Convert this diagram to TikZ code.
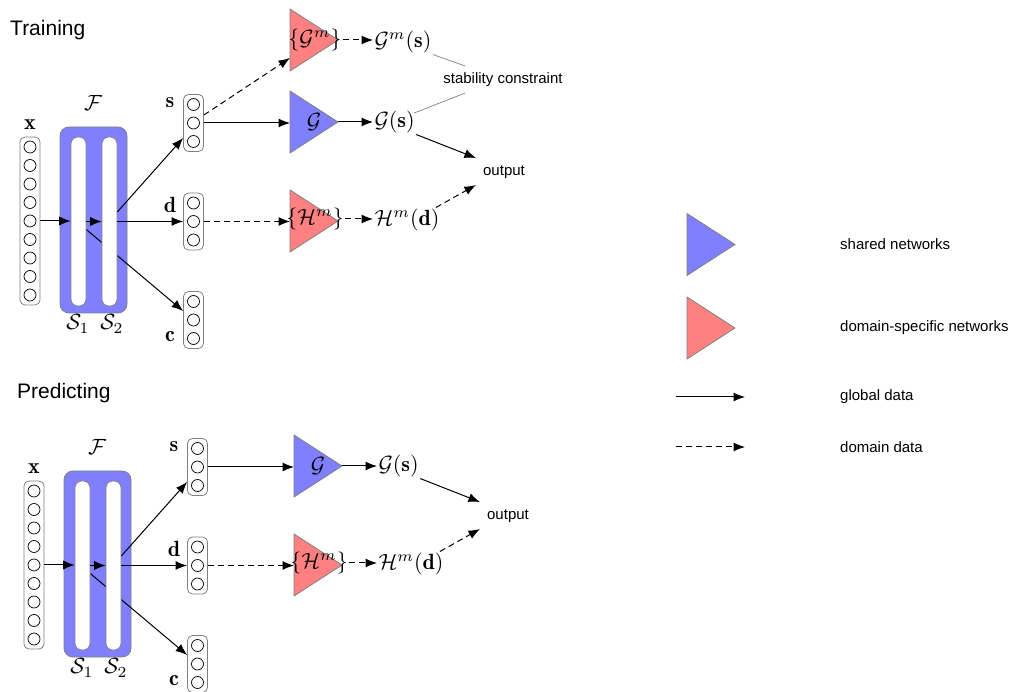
\documentclass[tikz,border=0pt]{standalone}
\usepackage{fontspec}
\setsansfont{Liberation Sans}
\usetikzlibrary{arrows.meta,calc}
\pgfdeclarelayer{back}
\pgfdeclarelayer{wire}
\pgfsetlayers{back,wire,main}

\definecolor{sharedblue}{RGB}{128,128,255}
\definecolor{domainred}{RGB}{255,128,128}
\definecolor{edgegray}{RGB}{128,128,128}

\tikzset{
  stack/.style={draw=edgegray, line width=0.8pt, rounded corners=5pt, minimum width=20, inner sep=0pt, fill=white},
  unit/.style={circle, draw=black, line width=0.7pt, minimum size=12, inner sep=0pt},
  encoder/.style={draw=edgegray, line width=0.8pt, fill=sharedblue, rounded corners=9pt, minimum width=67, minimum height=186, inner sep=0pt},
  slot/.style={draw=edgegray, line width=0.6pt, fill=white, rounded corners=7pt, minimum width=15, minimum height=169, inner sep=0pt},
  lbl/.style={inner sep=0.5pt, scale=2.2},
  txt/.style={inner sep=2pt, font=\sffamily\fontsize{15}{18}\selectfont},
  title/.style={inner sep=0pt, anchor=west, font=\sffamily\fontsize{21}{25}\selectfont},
  flow/.style={line width=1pt, -{Latex[length=11.5pt,width=9pt]}},
  domflow/.style={flow, dash pattern=on 6pt off 4pt},
  shared/.style={draw=edgegray, line width=0.8pt, fill=sharedblue},
  specific/.style={draw=edgegray, line width=0.8pt, fill=domainred},
  link/.style={draw=edgegray, line width=0.7pt},
}

% a column of neurons in a rounded frame: name, position, count
\newcommand\neuronstack[3]{%
  \node[stack, minimum height={(#3-1)*18.5+20}] (#1) at #2 {};
  \foreach \k in {1,...,#3}{
    \pgfmathsetmacro\dy{(\k-(#3+1)/2)*18.5}
    \node[unit] (#1-\k) at ($(#1.center)+(0,\dy)$) {};
  }
}

% a network drawn as a right-pointing triangle: style, name, base midpoint
\newcommand\netshape[3]{%
  \coordinate (#2) at #3;
  \coordinate (#2tip) at ($(#2)+(48,0)$);
  \draw[#1] ($(#2)+(0,-31)$) -- (#2tip) -- ($(#2)+(0,31)$) -- cycle;
}

% encoder, heads and output shared by both stages: prefix, x offset, y offset
\newcommand\panel[3]{%
  \neuronstack{#1x}{({30+#2},{221+#3})}{9}
  \node[lbl] (#1xl) at ({30+#2},{125+#3}) {$\mathbf{x}$};
  \begin{pgfonlayer}{back}
    \node[encoder] (#1F) at ({93.5+#2},{220+#3}) {};
  \end{pgfonlayer}
  \node[lbl] (#1Fl) at ({93+#2},{103+#3}) {$\mathcal{F}$};
  \node[slot] (#1S1) at ({78.5+#2},{221.5+#3}) {};
  \node[slot] (#1S2) at ({109.5+#2},{221.5+#3}) {};
  \node[lbl] (#1S1l) at ({78+#2},{324+#3}) {$\mathcal{S}_1$};
  \node[lbl] (#1S2l) at ({112+#2},{324+#3}) {$\mathcal{S}_2$};
  \neuronstack{#1s}{({193.5+#2},{123+#3})}{3}
  \neuronstack{#1d}{({193.5+#2},{221.5+#3})}{3}
  \neuronstack{#1c}{({193.5+#2},{320+#3})}{3}
  \node[lbl] (#1sl) at ({170+#2},{103+#3}) {$\mathbf{s}$};
  \node[lbl] (#1dl) at ({170+#2},{205+#3}) {$\mathbf{d}$};
  \node[lbl] (#1cl) at ({170+#2},{337+#3}) {$\mathbf{c}$};
  % feature extraction
  \draw[flow] (#1x.east) -- (#1x.east -| #1S1.west);
  \draw[flow] (#1S1.east) -- (#1S2.west);
  \draw[flow] (#1S2.east) -- (#1d.west);
  \draw[flow] ($(#1S2.east)+(0,-9.5)$) -- ($(#1s.west)+(0,15)$);
  \begin{pgfonlayer}{wire}
    \draw[flow] ($(#1S1.east)+(0,8)$) -- ($(#1c.west)+(0,-9)$);
  \end{pgfonlayer}
  % heads
  \netshape{shared}{#1G}{({290+#2},{122+#3})}
  \node[lbl] (#1Gl) at ($(#1G)+(24,0)$) {$\mathcal{G}$};
  \netshape{specific}{#1H}{({290+#2},{221+#3})}
  \node[lbl] (#1Hl) at ($(#1H)+(25,-2)$) {$\{\mathcal{H}^m\}$};
  \draw[flow] (#1s.east) -- (#1s.east -| #1G);
  \draw[domflow] (#1d.east) -- (#1d.east -| #1H);
  \node[lbl, anchor=west] (#1Gs) at ({373+#2},{122+#3}) {$\mathcal{G}(\mathbf{s})$};
  \node[lbl, anchor=west] (#1Hd) at ({373+#2},{220+#3}) {$\mathcal{H}^m(\mathbf{d})$};
  \draw[flow] (#1Gtip) -- (#1Gs.west);
  \draw[domflow] (#1Hl.east) -- (#1Hl.east -| #1Hd.west);
  \node[txt] (#1out) at ({504+#2},{172+#3}) {output};
  \draw[flow] (#1Gs.south east) -- ($(#1out.west)+(-5,-14)$);
  \draw[domflow] ($(#1Hd.north east)+(-5,0)$) -- ($(#1out.west)+(-5,13)$);
}

\begin{document}
\begin{tikzpicture}[x=1pt, y=-1pt]
  \useasboundingbox (0,0) rectangle (1013,692);

  % training stage
  \node[title] (ttitle) at (10,30) {Training};
  \panel{t}{0}{0}
  \netshape{specific}{tGm}{(290,40)}
  \node[lbl] (tGml) at (315,40) {$\{\mathcal{G}^m\}$};
  \draw[domflow] ($(ts.east)+(0,-8)$) -- ($(tGm)+(0,18)$);
  \node[lbl, anchor=west] (tGms) at (373,42) {$\mathcal{G}^m(\mathbf{s})$};
  \draw[domflow] (tGml.east) -- (tGml.east -| tGms.west);
  \node[txt] (stab) at (503,80) {stability constraint};
  \draw[link] (tGms.south east) -- ($(stab.west)+(24,-14)$);
  \draw[link] ($(tGs.east)+(-2,-9)$) -- ($(stab.west)+(24,13)$);

  % prediction stage
  \node[title] (ptitle) at (17,393) {Predicting};
  \panel{p}{4}{344}

  % legend
  \netshape{shared}{lgS}{(687,244.5)}
  \node[txt, anchor=west] (lgSt) at (838,244) {shared networks};
  \netshape{specific}{lgD}{(687,328)}
  \node[txt, anchor=west] (lgDt) at (838,328) {domain-specific networks};
  \coordinate (lgA1) at (676,397);
  \coordinate (lgA2) at (745,397);
  \draw[flow] (lgA1) -- (lgA2);
  \node[txt, anchor=west] (lgAt) at (838,397) {global data};
  \coordinate (lgB1) at (676,447);
  \coordinate (lgB2) at (745,447);
  \draw[domflow] (lgB1) -- (lgB2);
  \node[txt, anchor=west] (lgBt) at (838,447) {domain data};
\end{tikzpicture}
\end{document}
